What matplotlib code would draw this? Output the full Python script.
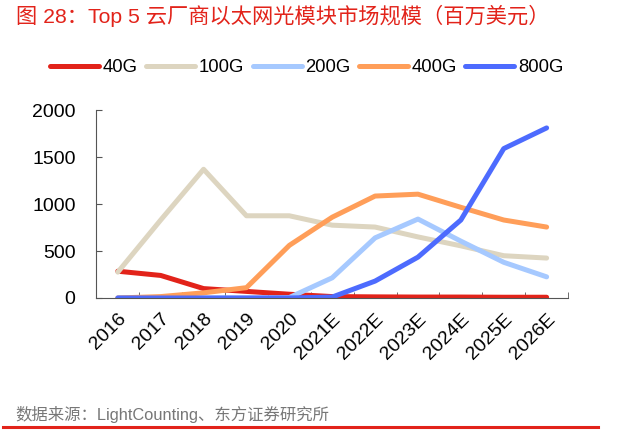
import numpy as np
import matplotlib.pyplot as plt

plt.rcParams['font.family'] = ['Liberation Sans', 'Noto Sans CJK SC', 'DejaVu Sans']

years = ['2016', '2017', '2018', '2019', '2020', '2021E', '2022E',
         '2023E', '2024E', '2025E', '2026E']
g40 = [285, 240, 100, 70, 40, 15, 12, 10, 10, 8, 8]
g100 = [275, 830, 1370, 875, 875, 775, 755, 650, 555, 450, 425]
g200 = [0, 0, 0, 0, 5, 215, 640, 840, 605, 380, 225]
g400 = [0, 15, 55, 110, 560, 860, 1085, 1105, 965, 830, 755]
g800 = [0, 0, 0, 0, 0, 10, 180, 435, 830, 1590, 1810]

series = [('40G', g40, '#e2231a'), ('100G', g100, '#ddd5c0'),
          ('200G', g200, '#a6c9ff'), ('400G', g400, '#ff9e59'),
          ('800G', g800, '#4d6bfe')]

fig = plt.figure(figsize=(6.34, 4.30), dpi=100)
ax = fig.add_axes([0.152, 0.307, 0.744, 0.437])

x = np.arange(len(years))
for name, vals, col in series:
    ax.plot(x, vals, color=col, lw=3.6, label=name, solid_capstyle='round')

ax.set_xlim(-0.5, len(years) - 0.5)
ax.set_ylim(0, 2000)
ax.set_yticks([0, 500, 1000, 1500, 2000])
ax.set_xticks(x)
ax.set_xticklabels(years, rotation=45, ha='right', rotation_mode='anchor', fontsize=14)
ax.set_xticks(np.arange(len(years) + 1) - 0.5, minor=True)
ax.tick_params(axis='x', which='major', length=0, pad=9)
ax.tick_params(axis='x', which='minor', direction='in', length=4, color='#555555')
ax.tick_params(axis='y', direction='in', length=4, labelsize=14, pad=15, color='#555555')
for s in ['top', 'right']:
    ax.spines[s].set_visible(False)
ax.spines['left'].set_color('#555555')
ax.spines['bottom'].set_color('#555555')

fig.legend(loc='center', bbox_to_anchor=(0.484, 0.843), ncol=5, frameon=False,
           fontsize=13.3, handlelength=2.65, handletextpad=0.2, columnspacing=0.45,
           borderpad=0, borderaxespad=0)

fig.text(0.026, 0.963, '图 28：Top 5 云厂商以太网光模块市场规模（百万美元）',
         color='#e2231a', fontsize=15.3, va='center')
fig.text(0.024, 0.035, '数据来源：LightCounting、东方证券研究所',
         color='#777777', fontsize=11.8, va='center')
fig.add_artist(plt.Line2D([0.005, 0.943], [0.007, 0.007], color='#e2231a', lw=2.2))

fig.savefig('out.png', dpi=100)
